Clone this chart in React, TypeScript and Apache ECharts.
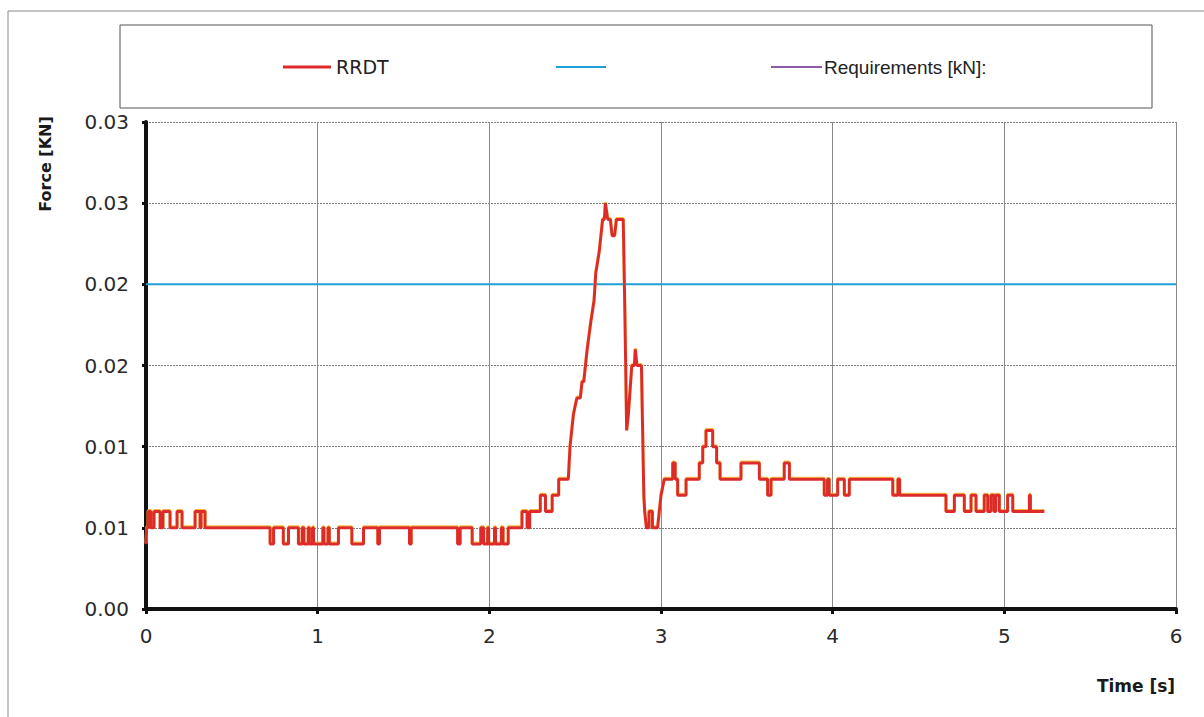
import React, { useEffect, useRef } from "react";
import * as echarts from "echarts";

// ---- data ----
const xTickLabels = ["0", "1", "2", "3", "4", "5", "6"];
const yTickLabels = ["0.00", "0.01", "0.01", "0.02", "0.02", "0.03", "0.03"];

const seriesNames = ["RRDT", "", "Requirements [kN]:"];

// blue reference line
const blueTime = [0, 6];
const blueForce = [0.02, 0.02];

// RRDT trace: [time s, force kN]
const rrdtPoints: [number, number][] = [
  [0, 0.004], [0.004, 0.005], [0.012, 0.005], [0.012, 0.006], [0.029, 0.006], [0.029, 0.005],
  [0.047, 0.005], [0.047, 0.006], [0.082, 0.006], [0.082, 0.005], [0.099, 0.005], [0.099, 0.006],
  [0.14, 0.006], [0.14, 0.005], [0.181, 0.005], [0.181, 0.006], [0.21, 0.006], [0.21, 0.005],
  [0.286, 0.005], [0.286, 0.006], [0.315, 0.006], [0.315, 0.005], [0.321, 0.005], [0.321, 0.006],
  [0.344, 0.006], [0.344, 0.005],
  [0.723, 0.005], [0.723, 0.004], [0.743, 0.004], [0.743, 0.005],
  [0.8, 0.005], [0.8, 0.004], [0.83, 0.004], [0.83, 0.005],
  [0.888, 0.005], [0.888, 0.004], [0.91, 0.004], [0.91, 0.005], [0.92, 0.005], [0.92, 0.004],
  [0.945, 0.004], [0.945, 0.005], [0.952, 0.005], [0.952, 0.004], [0.97, 0.004], [0.97, 0.005],
  [0.976, 0.005], [0.976, 0.004], [1.03, 0.004], [1.03, 0.005], [1.037, 0.005], [1.037, 0.004],
  [1.06, 0.004], [1.06, 0.005], [1.068, 0.005], [1.068, 0.004], [1.121, 0.004], [1.121, 0.005],
  [1.199, 0.005], [1.199, 0.004], [1.267, 0.004], [1.267, 0.005],
  [1.35, 0.005], [1.35, 0.004], [1.36, 0.004], [1.36, 0.005],
  [1.535, 0.005], [1.535, 0.004], [1.545, 0.004], [1.545, 0.005],
  [1.815, 0.005], [1.815, 0.004], [1.83, 0.004], [1.83, 0.005],
  [1.9, 0.005], [1.9, 0.004], [1.95, 0.004], [1.95, 0.005],
  [1.967, 0.005], [1.967, 0.004], [1.99, 0.004], [1.99, 0.005], [1.996, 0.005], [1.996, 0.004],
  [2.03, 0.004], [2.03, 0.005], [2.036, 0.005], [2.036, 0.004], [2.07, 0.004], [2.07, 0.005],
  [2.08, 0.005], [2.08, 0.004], [2.11, 0.004], [2.11, 0.005],
  [2.19, 0.005], [2.19, 0.006], [2.22, 0.006], [2.22, 0.005], [2.235, 0.005], [2.235, 0.006],
  [2.297, 0.006], [2.297, 0.007], [2.327, 0.007], [2.327, 0.006], [2.366, 0.006], [2.366, 0.007],
  [2.404, 0.007], [2.404, 0.008], [2.46, 0.008], [2.465, 0.009], [2.47, 0.01], [2.49, 0.012],
  [2.51, 0.013], [2.53, 0.013], [2.54, 0.014], [2.55, 0.014], [2.57, 0.016], [2.59, 0.0176],
  [2.61, 0.019], [2.62, 0.0207], [2.64, 0.022], [2.66, 0.024], [2.67, 0.024], [2.676, 0.025],
  [2.69, 0.024], [2.705, 0.024], [2.715, 0.023], [2.73, 0.023], [2.74, 0.024], [2.78, 0.024],
  [2.79, 0.018], [2.8, 0.011], [2.81, 0.012], [2.83, 0.015], [2.845, 0.015], [2.85, 0.016],
  [2.86, 0.015], [2.886, 0.015], [2.9, 0.007], [2.905, 0.006], [2.915, 0.005],
  [2.93, 0.005], [2.93, 0.006], [2.95, 0.006], [2.95, 0.005], [2.98, 0.005], [2.99, 0.006],
  [3.0, 0.007], [3.019, 0.008], [3.068, 0.008], [3.068, 0.009], [3.083, 0.009], [3.083, 0.008],
  [3.097, 0.008], [3.097, 0.007], [3.146, 0.007], [3.146, 0.008], [3.223, 0.008], [3.223, 0.009],
  [3.243, 0.009], [3.243, 0.01], [3.262, 0.01], [3.262, 0.011], [3.301, 0.011], [3.301, 0.01],
  [3.324, 0.01], [3.324, 0.009], [3.344, 0.009], [3.344, 0.008], [3.466, 0.008], [3.466, 0.009],
  [3.573, 0.009], [3.573, 0.008], [3.621, 0.008], [3.621, 0.007], [3.641, 0.007], [3.641, 0.008],
  [3.718, 0.008], [3.718, 0.009], [3.748, 0.009], [3.748, 0.008], [3.951, 0.008], [3.951, 0.007],
  [3.97, 0.007], [3.97, 0.008], [3.98, 0.008], [3.98, 0.007], [4.029, 0.007], [4.029, 0.008],
  [4.068, 0.008], [4.068, 0.007], [4.097, 0.007], [4.097, 0.008], [4.35, 0.008], [4.35, 0.007],
  [4.38, 0.007], [4.38, 0.008], [4.39, 0.008], [4.39, 0.007], [4.66, 0.007], [4.66, 0.006],
  [4.709, 0.006], [4.709, 0.007], [4.767, 0.007], [4.767, 0.006], [4.806, 0.006], [4.806, 0.007],
  [4.835, 0.007], [4.835, 0.006], [4.883, 0.006], [4.883, 0.007], [4.903, 0.007], [4.903, 0.006],
  [4.922, 0.006], [4.922, 0.007], [4.94, 0.007], [4.94, 0.006], [4.95, 0.006], [4.95, 0.007],
  [4.971, 0.007], [4.971, 0.006], [5.019, 0.006], [5.019, 0.007], [5.049, 0.007], [5.049, 0.006],
  [5.146, 0.006], [5.146, 0.007], [5.152, 0.007], [5.152, 0.006], [5.233, 0.006],
];

const RED = "#de2a2c";
const BLUE = "#1f9fd8";
const PURPLE = "#8c5aa6";

export default function App() {
  const ref = useRef<HTMLDivElement>(null);

  useEffect(() => {
    if (!ref.current) return;
    const chart = echarts.init(ref.current, undefined, { renderer: "svg" });
    const labelFont = "DejaVu Sans";
    const option: any = {
      animation: false,
      backgroundColor: "#ffffff",
      grid: { left: 146, right: 28, top: 122, bottom: 108, containLabel: false },
      xAxis: {
        type: "value",
        min: 0,
        max: 6,
        interval: 1,
        axisLine: { show: true, onZero: false, lineStyle: { color: "#111", width: 4 } },
        axisTick: { show: true, length: 5, lineStyle: { color: "#111", width: 3 } },
        axisLabel: {
          margin: 17,
          color: "#2a2a2a",
          fontFamily: labelFont,
          fontSize: 20,
          formatter: (v: number) => xTickLabels[Math.round(v)] ?? "",
        },
        splitLine: { show: true, lineStyle: { color: "#8a8a8a", width: 1 } },
      },
      yAxis: {
        type: "value",
        min: 0,
        max: 0.03,
        interval: 0.005,
        axisLine: { show: true, lineStyle: { color: "#111", width: 4 } },
        axisTick: { show: true, length: 4, lineStyle: { color: "#111", width: 3 } },
        axisLabel: {
          margin: 17,
          color: "#2a2a2a",
          fontFamily: labelFont,
          fontSize: 20,
          formatter: (v: number) => yTickLabels[Math.round(v / 0.005)] ?? "",
        },
        splitLine: { show: true, lineStyle: { color: "#7a7a7a", width: 1, type: [2, 1] } },
      },
      series: [
        {
          name: seriesNames[1],
          type: "line",
          data: blueTime.map((t, i) => [t, blueForce[i]]),
          showSymbol: false,
          lineStyle: { color: BLUE, width: 2 },
          z: 2,
        },
        {
          name: seriesNames[0],
          type: "line",
          data: rrdtPoints,
          showSymbol: false,
          lineStyle: {
            color: RED,
            width: 3,
            shadowColor: "rgba(245,175,40,0.85)",
            shadowOffsetY: -1,
            shadowBlur: 0,
          },
          z: 3,
        },
        {
          name: seriesNames[2],
          type: "line",
          data: [],
          showSymbol: false,
          lineStyle: { color: PURPLE, width: 2 },
        },
      ],
      graphic: [
        {
          type: "rect",
          shape: { x: 8, y: 11, width: 1210, height: 720 },
          style: { fill: "none", stroke: "#8a8a8a", lineWidth: 1 },
          silent: true,
        },
        {
          type: "rect",
          shape: { x: 120, y: 25, width: 1032, height: 83 },
          style: { fill: "#ffffff", stroke: "#555", lineWidth: 1 },
          silent: true,
        },
        {
          type: "line",
          shape: { x1: 283, y1: 67, x2: 331, y2: 67 },
          style: { stroke: RED, lineWidth: 3 },
        },
        {
          type: "text",
          x: 336,
          y: 67,
          style: {
            text: seriesNames[0],
            fill: "#222",
            font: "19px 'DejaVu Sans'",
            align: "left",
            verticalAlign: "middle",
          },
        },
        {
          type: "line",
          shape: { x1: 556, y1: 67, x2: 606, y2: 67 },
          style: { stroke: BLUE, lineWidth: 2 },
        },
        {
          type: "line",
          shape: { x1: 771, y1: 67, x2: 822, y2: 67 },
          style: { stroke: PURPLE, lineWidth: 2 },
        },
        {
          type: "text",
          x: 824,
          y: 67,
          style: {
            text: seriesNames[2],
            fill: "#222",
            font: "19px 'Liberation Sans'",
            align: "left",
            verticalAlign: "middle",
          },
        },
        {
          type: "text",
          x: 45,
          y: 164,
          rotation: Math.PI / 2,
          style: {
            text: "Force [KN]",
            fill: "#1a1a1a",
            font: "bold 16px 'DejaVu Sans'",
            align: "center",
            verticalAlign: "middle",
          },
        },
        {
          type: "text",
          x: 1136,
          y: 686,
          style: {
            text: "Time [s]",
            fill: "#1a1a1a",
            font: "bold 17px 'DejaVu Sans'",
            align: "center",
            verticalAlign: "middle",
          },
        },
      ],
    };
    chart.setOption(option);
    return () => chart.dispose();
  }, []);

  return (
    <div
      ref={ref}
      style={{ position: "absolute", left: 0, top: 0, width: 1204, height: 717, background: "#fff" }}
    />
  );
}
